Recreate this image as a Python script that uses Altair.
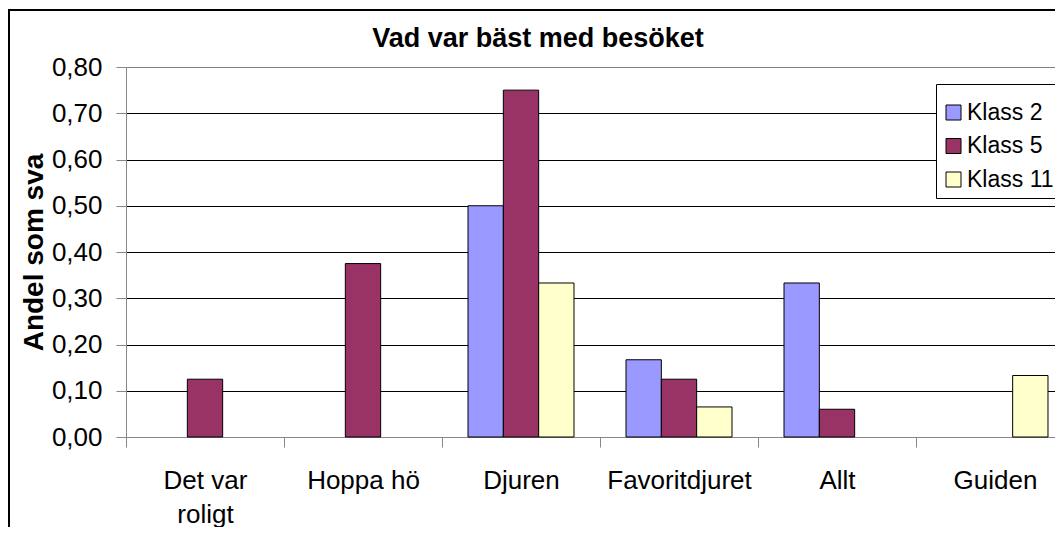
import altair as alt
import pandas as pd

categories = ["Det var roligt", "Hoppa hö", "Djuren", "Favoritdjuret", "Allt", "Guiden"]
series = ["Klass 2", "Klass 5", "Klass 11"]
klass_2 = [None, None, 0.50, 0.167, 0.333, None]
klass_5 = [0.125, 0.375, 0.75, 0.125, 0.06, None]
klass_11 = [None, None, 0.333, 0.065, None, 0.133]
colors = ["#9999FF", "#993366", "#FFFFCC"]
y_ticks = [0.0, 0.1, 0.2, 0.3, 0.4, 0.5, 0.6, 0.7, 0.8]
title_text = "Vad var bäst med besöket"
y_title = "Andel som sva"

FONT = "Liberation Sans"
W, H = 948, 370

rows = []
for s, vals in zip(series, [klass_2, klass_5, klass_11]):
    for c, v in zip(categories, vals):
        if v is not None:
            rows.append({"kategori": c, "klass": s, "andel": v})
df = pd.DataFrame(rows)

bars = alt.Chart(df).mark_bar(stroke="black", strokeWidth=1).encode(
    x=alt.X(
        "kategori:N",
        sort=categories,
        scale=alt.Scale(domain=categories, paddingInner=0, paddingOuter=0),
        axis=alt.Axis(
            title=None,
            labelAngle=0,
            tickBand="extent",
            tickSize=10,
            labelPadding=20,
            labelFontSize=26,
            labelLineHeight=34,
            labelExpr="datum.value == 'Det var roligt' ? ['Det var', 'roligt'] : datum.label",
        ),
    ),
    xOffset=alt.XOffset(
        "klass:N",
        sort=series,
        scale=alt.Scale(domain=series, paddingInner=0, paddingOuter=0.736),
    ),
    y=alt.Y(
        "andel:Q",
        scale=alt.Scale(domain=[0, 0.8], nice=False),
        axis=alt.Axis(
            title=y_title,
            values=y_ticks,
            labelExpr="replace(format(datum.value, '.2f'), '.', ',')",
            tickSize=10,
            labelPadding=14,
            labelFontSize=26,
            grid=True,
            gridColor={"condition": {"test": "datum.value >= 0.79", "value": "#808080"}, "value": "black"},
            gridWidth=1,
            titleFontSize=28,
            titleFontWeight="bold",
            titleAngle=270,
            titleAlign="center",
            titleBaseline="alphabetic",
            titleX=-84,
            titleY=H / 2,
        ),
    ),
    color=alt.Color(
        "klass:N",
        sort=series,
        scale=alt.Scale(domain=series, range=colors),
        legend=alt.Legend(
            title=" ",
            titleFontSize=8,
            titlePadding=3,
            orient="none",
            legendX=810,
            legendY=17,
            fillColor="white",
            strokeColor="black",
            padding=6,
            symbolOffset=0,
            symbolType="square",
            symbolSize=225,
            symbolStrokeColor="black",
            symbolStrokeWidth=1,
            labelFontSize=23,
            labelOffset=2,
            rowPadding=9.5,
        ),
    ),
)

frame = alt.Chart(alt.Data(values=[{}])).mark_rect(
    fillOpacity=0, stroke="black", strokeWidth=2
).encode(
    x=alt.value(-117), x2=alt.value(W + 60), y=alt.value(-57), y2=alt.value(H + 160)
)

title = alt.Chart(alt.Data(values=[{"t": title_text}])).mark_text(
    fontSize=27, fontWeight="bold", font=FONT, baseline="alphabetic", align="center", color="black"
).encode(x=alt.value(412), y=alt.value(-20), text="t:N")

chart = alt.layer(frame, bars, title).properties(
    width=W,
    height=H,
    autosize=alt.AutoSizeParams(type="none"),
    padding={"left": 118, "top": 59, "right": -19, "bottom": 90},
).configure_view(
    fill="#C0C0C0", stroke="#808080", strokeWidth=1
).configure_axis(
    labelFont=FONT, titleFont=FONT, labelColor="black", titleColor="black",
    domainColor="black", tickColor="black", domainWidth=1, tickWidth=1,
).configure_legend(
    labelFont=FONT, labelColor="black", titleFont=FONT
).configure(background="white")

chart.save("out.html", embed_options={"renderer": "svg", "actions": False})
